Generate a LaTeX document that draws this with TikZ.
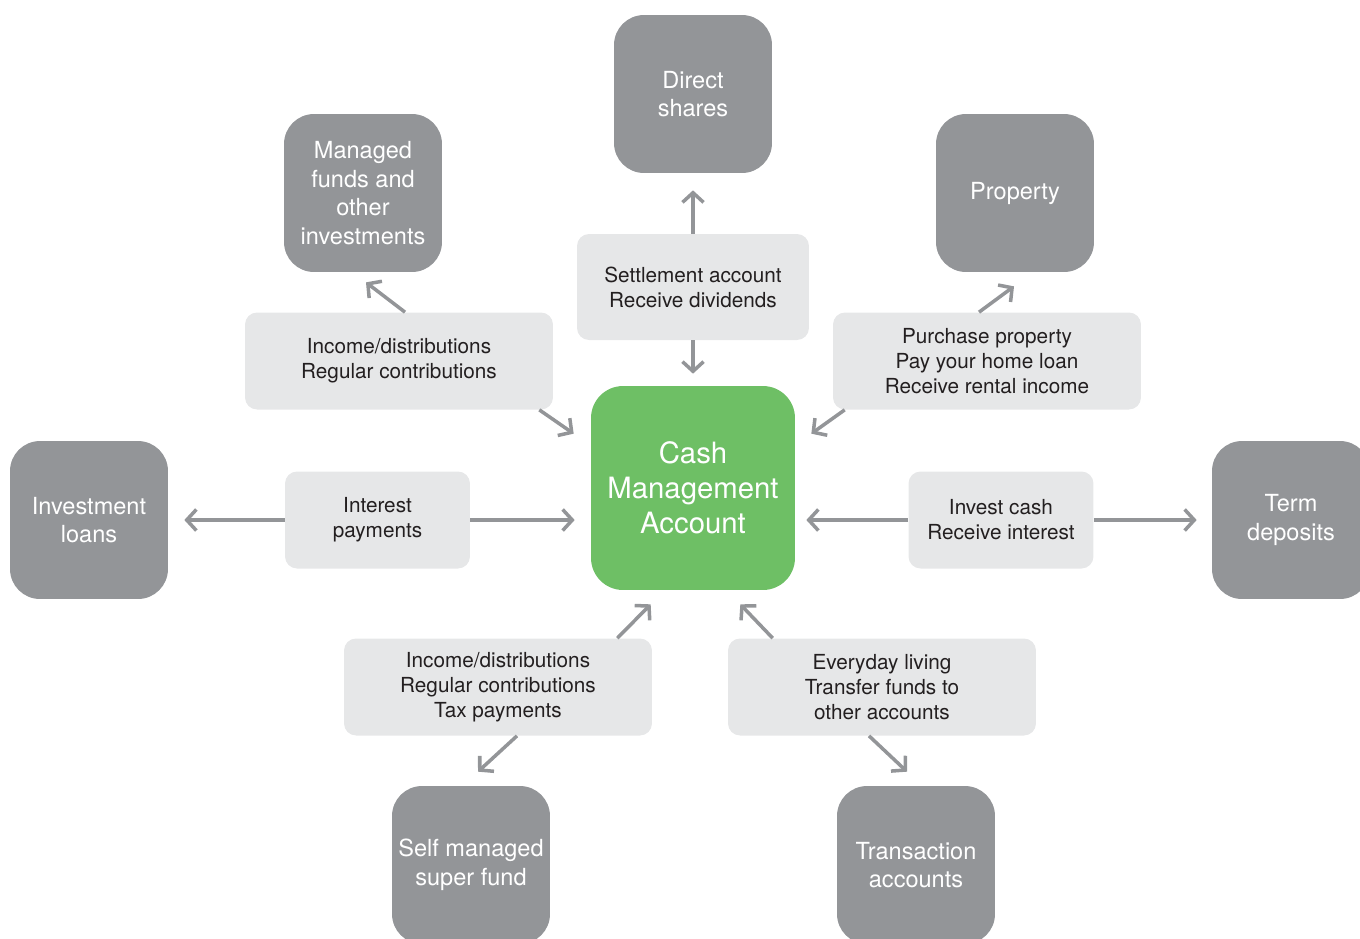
\documentclass[tikz,border=0pt]{standalone}
\usepackage{fontspec}
\setmainfont{TeX Gyre Heros}
\usetikzlibrary{arrows.meta, calc}
\definecolor{boxgray}{HTML}{939598}
\definecolor{flowgray}{HTML}{E6E7E8}
\definecolor{cmagreen}{HTML}{6EBF65}
\definecolor{textdark}{HTML}{231F20}

\begin{document}
\begin{tikzpicture}[x=0.02cm, y=-0.02cm,
        block/.style={rectangle, align=center, inner sep=0pt},
        asset/.style={block, fill=boxgray, text=white, rounded corners=0.6cm,
                      minimum width=3.16cm, minimum height=3.16cm,
                      font=\fontsize{13.4}{16.4}\selectfont},
        hub/.style={block, fill=cmagreen, text=white, rounded corners=0.64cm,
                    minimum width=4.08cm, minimum height=4.08cm,
                    font=\fontsize{16.7}{19.8}\selectfont},
        flow/.style={block, fill=flowgray, text=textdark, rounded corners=0.24cm,
                     minimum width=6.16cm, minimum height=1.94cm,
                     font=\fontsize{11.8}{14.2}\selectfont},
        smallflow/.style={flow, minimum width=3.7cm},
        arrow/.style={-{Straight Barb[length=5.5pt, width=12pt]}, line width=2pt, draw=boxgray}
    ]
        \useasboundingbox (0,0) rectangle (1360,938);

        % Hub
        \node[hub] (cma) at (693,488) {Cash\\Management\\Account};

        % Assets around the hub
        \node[asset] (shares) at (693,94) {Direct\\shares};
        \node[asset] (funds) at (363,193) {Managed\\funds and\\other\\investments};
        \node[asset] (property) at (1015,193) {Property};
        \node[asset] (loans) at (89,520) {Investment\\loans};
        \node[asset] (term) at (1291,520) {Term\\deposits};
        \node[asset] (smsf) at (471,865) {Self managed\\super fund};
        \node[asset] (trans) at (916,865) {Transaction\\accounts};

        % Flows between hub and assets
        \node[flow, minimum width=4.64cm, minimum height=2.12cm] (settle) at (693,287) {Settlement account\\Receive dividends};
        \node[flow] (income) at (399,361) {Income/distributions\\Regular contributions};
        \node[flow] (purchase) at (987,361) {Purchase property\\Pay your home loan\\Receive rental income};
        \node[smallflow] (interest) at (377.5,520) {Interest\\payments};
        \node[smallflow] (invest) at (1001,520) {Invest cash\\Receive interest};
        \node[flow] (super) at (498,687) {Income/distributions\\Regular contributions\\Tax payments};
        \node[flow] (living) at (882,687) {Everyday living\\Transfer funds to\\other accounts};

        % Top
        \draw[arrow, shorten >=0.34cm] (settle) -- (shares);
        \draw[arrow, shorten >=0.24cm] (settle) -- (cma);
        \draw[arrow] ($(income.north)+(6,0)$) -- ($(funds.south)+(3,10)$);
        \draw[arrow] ($(income.south east)+(-14,0)$) -- ($(cma.north west)+(-17,48)$);
        \draw[arrow] ($(purchase.north)+(-8,0)$) -- ($(property.south)+(-1,14)$);
        \draw[arrow] ($(purchase.south west)+(12,0)$) -- ($(cma.north east)+(16,48)$);

        % Sides
        \draw[arrow, shorten >=0.32cm] (interest.west) -- (interest.west -| loans.east);
        \draw[arrow, shorten >=0.32cm] (interest.east) -- (interest.east -| cma.west);
        \draw[arrow, shorten >=0.22cm] (invest.west) -- (invest.west -| cma.east);
        \draw[arrow, shorten >=0.3cm] (invest.east) -- (invest.east -| term.west);

        % Bottom
        \draw[arrow] ($(super.north east)+(-35,0)$) -- ($(cma.south west)+(60,14)$);
        \draw[arrow] ($(super.south)+(19,0)$) -- ($(smsf.north)+(7,-14)$);
        \draw[arrow] ($(living.north west)+(45,0)$) -- ($(cma.south east)+(-55,14)$);
        \draw[arrow] ($(living.south)+(-13,0)$) -- ($(trans.north)+(-9,-14)$);
    \end{tikzpicture}
\end{document}
